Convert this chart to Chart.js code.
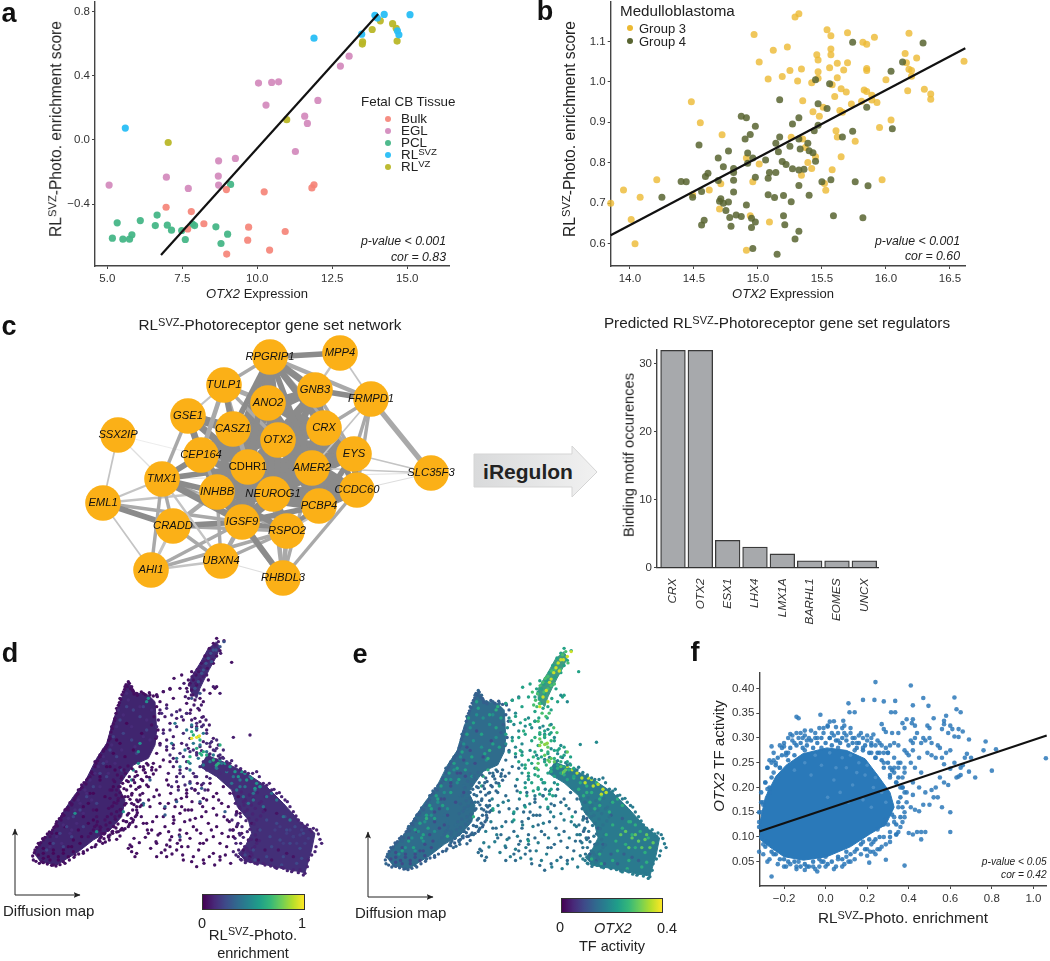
<!DOCTYPE html>
<html><head><meta charset="utf-8">
<style>
html,body{margin:0;padding:0;background:#fff;width:1050px;height:961px;overflow:hidden;font-family:"Liberation Sans",Arial,sans-serif;color:#222}
canvas{position:absolute}
.t{position:absolute;white-space:nowrap;line-height:1}
sup{font-size:.72em;line-height:0;vertical-align:.44em}
</style>
<script src="https://cdn.jsdelivr.net/npm/chart.js@4"></script>
</head><body>
<svg style="position:absolute;left:0;top:0" width="1050" height="961">
<defs><linearGradient id="arrowFill" x1="0" x2="1" y1="0" y2="0"><stop offset="0" stop-color="#d9dadb"/><stop offset="1" stop-color="#f1f1f1"/></linearGradient>
<marker id="ah" markerWidth="8" markerHeight="8" refX="6.5" refY="3" orient="auto" markerUnits="userSpaceOnUse"><path d="M0,0 L7,3 L0,6 L1.5,3 z" fill="#222"/></marker></defs>
<path d="M474,454 H572 V446 L597,472 L572,497 V487 H474 Z" fill="url(#arrowFill)" stroke="#d5d5d5" stroke-width="1"/>
<path d="M15,895 V829" fill="none" stroke="#222" stroke-width="1" marker-end="url(#ah)"/><path d="M15,895 H80" fill="none" stroke="#222" stroke-width="1" marker-end="url(#ah)"/>
<path d="M368,897 V832" fill="none" stroke="#222" stroke-width="1" marker-end="url(#ah)"/><path d="M368,897 H433" fill="none" stroke="#222" stroke-width="1" marker-end="url(#ah)"/>
</svg>
<script>
/* ---------- panel a ---------- */
const aBulkX=[6.96,7.8,8.22,7.68,8.97,10.23,11.89,11.82,9.71,10.93,9.68,10.41,8.98];
const aBulkY=[-0.42,-0.447,-0.523,-0.555,-0.31,-0.324,-0.28,-0.30,-0.544,-0.571,-0.625,-0.687,-0.712];
const aEglX=[5.06,6.97,7.7,8.7,8.71,8.71,9.27,11.27,11.67,11.58,12.02,10.29,10.04,10.48,10.71,12.77,13.06];
const aEglY=[-0.282,-0.233,-0.303,-0.226,-0.282,-0.131,-0.116,-0.073,0.102,0.147,0.245,0.216,0.353,0.357,0.361,0.459,0.521];
const aPclX=[5.17,5.33,5.52,5.74,5.82,6.1,6.6,6.66,7.0,7.14,7.48,7.6,7.84,7.91,8.62,9.01,8.79,9.11];
const aPclY=[-0.613,-0.517,-0.619,-0.619,-0.592,-0.503,-0.534,-0.469,-0.532,-0.563,-0.565,-0.621,-0.525,-0.534,-0.542,-0.588,-0.646,-0.278];
const aSvzX=[5.6,11.89,13.48,13.92,14.0,14.23,15.09,14.67,14.72];
const aSvzY=[0.073,0.633,0.658,0.775,0.758,0.781,0.779,0.679,0.654];
const aVzX=[7.03,10.98,13.5,13.51,13.83,14.1,14.51,14.63,14.66];
const aVzY=[-0.017,0.125,0.596,0.61,0.687,0.741,0.723,0.694,0.615];
const aFitX=[6.79,14.03], aFitY=[-0.717,0.783];
const aXTicks=[5,7.5,10,12.5,15], aXLabels=['5.0','7.5','10.0','12.5','15.0'];
const aYTicks=[-0.4,0,0.4,0.8], aYLabels=['\u22120.4','0.0','0.4','0.8'];
/* ---------- panel b ---------- */
const bG3X=[13.85,13.95,14.08,14.21,14.01,14.04,14.48,14.55,14.72,14.62,14.49,14.71,14.70,14.94,15.09,14.91,14.96,14.91,15.01,14.97,15.01,15.08,15.12,15.19,15.23,15.25,15.29,15.32,15.31,15.34,15.35,15.43,15.42,15.47,15.47,15.46,15.47,15.48,15.54,15.57,15.57,15.57,15.56,15.58,15.62,15.62,15.67,15.70,15.70,15.60,15.65,15.69,15.64,15.66,15.73,15.61,15.62,15.76,15.65,15.58,15.97,15.53,15.52,15.82,15.85,15.91,15.85,15.85,15.83,15.85,15.89,15.81,15.89,15.93,16.00,16.04,15.95,16.15,16.16,16.18,16.24,16.18,16.20,16.20,16.17,16.30,16.35,16.35,16.61,15.26,15.35,15.37,15.39,15.42,15.45,15.34,15.51];
const bG3Y=[0.70,0.733,0.715,0.758,0.66,0.60,0.951,0.899,0.869,0.733,0.721,0.748,0.686,0.669,0.654,0.584,0.753,0.812,0.797,1.117,1.049,1.007,1.078,1.013,1.086,1.028,1.160,1.168,1.002,1.032,0.953,0.926,0.998,1.009,1.025,1.067,1.054,0.915,1.129,1.114,1.081,1.067,1.035,0.993,1.010,1.046,1.029,1.047,1.121,0.964,0.983,0.975,0.929,0.925,0.945,0.879,0.864,0.853,0.815,0.783,0.758,0.732,0.749,1.098,1.093,1.110,1.033,1.028,0.980,0.976,0.967,0.952,0.955,0.949,1.005,0.906,0.887,1.070,1.047,1.120,1.059,1.031,1.028,1.014,0.978,0.982,0.970,0.957,1.051,0.863,0.859,0.838,0.801,0.786,0.815,0.769,0.937];
const bG4X=[14.25,14.40,14.44,14.49,14.56,14.59,14.61,14.54,14.56,14.58,14.69,14.73,14.77,14.81,14.81,14.81,14.81,14.69,14.70,14.71,14.73,14.77,14.75,14.78,14.83,14.87,14.79,14.91,14.95,14.98,14.95,14.96,14.87,14.91,14.98,14.94,14.90,14.92,14.96,14.92,14.98,15.06,15.09,15.14,15.08,15.08,15.13,15.20,15.26,15.20,15.21,15.32,15.29,15.15,15.17,15.17,15.14,15.16,15.19,15.22,15.27,15.32,15.36,15.25,15.27,15.32,15.32,15.33,15.39,15.40,15.43,15.44,15.47,15.47,15.54,15.45,15.32,15.40,15.50,15.57,15.59,15.66,15.74,15.76,15.86,15.82,16.05,15.85,15.74,16.29,16.13,16.04,15.45,15.56];
const bG4Y=[0.715,0.754,0.753,0.715,0.729,0.766,0.774,0.844,0.646,0.658,0.812,0.790,0.829,0.786,0.776,0.757,0.728,0.756,0.705,0.711,0.700,0.703,0.682,0.665,0.671,0.667,0.643,0.696,0.663,0.654,0.640,0.588,0.915,0.911,0.890,0.870,0.859,0.824,0.812,0.799,0.764,0.807,0.776,0.776,0.762,0.721,0.714,0.719,0.704,0.669,0.647,0.631,0.612,0.574,0.956,0.864,0.848,0.827,0.803,0.796,0.785,0.782,0.784,0.841,0.896,0.911,0.859,0.834,0.848,0.830,0.825,0.879,0.893,0.946,0.934,0.804,0.744,0.720,0.753,0.758,0.669,0.864,0.878,0.753,0.743,0.664,0.884,0.937,1.098,1.096,1.049,1.026,1.005,0.995];
const bFitX=[13.85,16.62], bFitY=[0.621,1.083];
const bXTicks=[14,14.5,15,15.5,16,16.5], bYTicks=[0.6,0.7,0.8,0.9,1.0,1.1];
/* ---------- panel c network ---------- */
const geneNames=['RPGRIP1','MPP4','TULP1','GNB3','FRMPD1','ANO2','GSE1','CASZ1','CRX','OTX2','SSX2IP','EYS','CEP164','CDHR1','AMER2','SLC35F3','TMX1','INHBB','NEUROG1','CCDC60','PCBP4','EML1','CRADD','IGSF9','RSPO2','UBXN4','AHI1','RHBDL3'];
const geneX=[270,340,224,315,371,268,188,233,324,278,118,354,201,248,312,431,162,217,273,357,319,103,173,242,287,221,151,283];
const geneY=[357,353,385,390,399,403,416,429,428,440,435,454,455,467,468,473,479,492,494,490,506,503,526,522,531,561,570,578];
const edgeFrom=[0,0,0,3,1,1,0,0,0,0,0,0,0,0,2,2,2,2,2,2,3,3,3,3,3,3,4,4,4,4,4,5,5,5,5,5,5,6,6,6,6,6,7,7,7,7,7,7,8,8,8,8,8,8,9,9,9,9,9,9,10,10,10,11,11,11,11,11,12,12,12,12,13,13,13,13,13,13,14,14,14,14,15,15,15,16,16,16,16,16,16,17,17,17,17,17,18,18,18,18,19,19,19,20,20,21,21,21,21,22,22,22,22,23,23,23,23,24,24,25,25,26,17];
const edgeTo=[1,3,4,4,3,4,5,2,8,9,7,13,14,11,5,7,6,13,12,9,5,8,9,14,13,11,8,11,19,15,14,7,9,8,13,14,18,7,12,13,16,17,9,12,13,17,14,18,9,11,14,13,18,19,13,14,18,17,11,19,21,16,13,14,19,15,18,20,13,16,17,18,14,17,18,16,20,23,18,19,20,17,19,16,14,17,23,22,26,21,25,18,23,22,24,25,20,23,24,19,20,27,24,24,23,22,23,17,26,23,24,25,26,24,25,26,27,27,25,26,27,24,27];
const edgeWidth=[5,6,4,5,2,1.5,7,3,6,6,5,5,5,3,4,5,2,4,4,3,6,7,6,6,5,3,3,3,3,4.5,1.5,7,7,6,7,6,5,8,6,6,3,3,7,8,9,7,6,7,6,5,7,5,6,5,8,8,8,7,5,5,1.5,1,0.5,7,6,1.5,5,5,8,5,7,6,9,9,9,5,6,6,9,7,7,6,1,0.8,1.5,5,6,3,3,2,2,8,7,4,5,3,8,8,7,7,7,3,2,5,5,5,3,2,1.5,5,3,3,2.5,5,4,3,5,4,3,2,1,3,4];
const coreFrom=[12,12,7,7,5,5,17,17,9,9,14,8,11,12,7,6,3,0,0,18,20,16,17,13,13,18,5,3,8,14];
const coreTo=[9,14,8,11,17,12,14,20,20,23,23,20,13,23,23,9,18,17,18,27,19,24,19,19,11,11,11,7,7,27];
const coreWidth=[9,9,8,7,8,8,9,8,8,8,8,7,8,8,7,7,6,5,6,4,8,4,7,8,8,8,6,6,7,3];
/* ---------- panel c bars ---------- */
const tfNames=['CRX','OTX2','ESX1','LHX4','LMX1A','BARHL1','EOMES','UNCX'];
const tfCounts=[32,32,4,3,2,1,1,1];
const barYTicks=[0,10,20,30];
/* ---------- panels d / e : hand-read cell positions (diffusion map units) ---------- */
const leftBodyX=[100,125,160,190,220,255,290,320,340,360,385,405,445,465,470,465,445,400,375,355,375,365,330,280,235,170,120];
const leftBodyY=[668,635,595,545,500,455,385,340,270,215,157,188,195,215,300,345,385,405,440,470,510,560,600,630,665,705,695];
const rightBodyX=[620,680,740,800,850,900,945,935,915,860,800,740,715,735,755,745,712,695,650,600];
const rightBodyY=[375,400,430,470,520,575,610,660,728,718,705,695,670,650,610,570,530,480,440,410];
const stalkBodyX=[648,660,648,628,612,600,590,572,570,582,600,625];
const stalkBodyY=[35,52,82,118,150,175,205,185,150,128,100,55];
const stalkDarkX=[650,672,660,640,628,615,604,650,695,622,640,610,596,588,575,580,570,560,565,545,522,540,600,612,625,645,585,598,578,560,572,650,630,610,590,575,520,490,510,470];
const stalkDarkY=[25,32,62,40,55,78,100,78,97,115,100,120,125,135,125,150,160,175,150,135,145,175,205,180,150,175,210,240,195,220,240,170,190,215,165,180,205,185,178,195];
const stalkMoreX=[655,645,662,638,630,622,612,600,592,584,576,568,562,556,610,620,600,588,574,566,552,604,594,582,570,606,618,628];
const stalkMoreY=[35,45,70,90,72,90,95,112,118,130,140,165,185,200,140,135,150,160,195,205,160,225,235,225,250,262,270,285];
const stalkBrightX=[632,618,640,605,625,595,648,585,610,600,575,660,672,635];
const stalkBrightY=[70,100,60,130,85,155,60,175,120,190,205,50,35,95];
const leftEdgeX=[100,105,118,130,150,158,170,165,185,195,215,205,225,245,235,260,275,285,300,320,310,330,335,345,350,360,375,385,395,410,430,450,470,490,510,125,160,190,225,250,285,300,330,355,385,400,410];
const leftEdgeY=[690,660,645,630,620,600,575,590,560,540,525,540,505,465,480,450,430,395,375,350,360,320,290,265,235,205,170,155,170,190,190,195,195,185,175,695,705,695,675,665,650,625,615,605,590,570,540];
const leftFringeX=[98,103,110,115,122,128,135,142,148,155,162,168,172,178,183,188,192,198,204,210,216,222,228,234,240,246,252,258,264,270,275,280,285,288,293,298,304,310,316,322,326,330,333,337,340,344,348,352,355,358,362,366,370,374,378,382,388,392,398,402,108,118,130,142,155,168,180,195,208,222,236,250,262,275,288,300,312,325,338,350,362,375,388,398,406,412,420,400,412,424,436,448,460,472,480,470,478,462,455,474,468,480];
const leftFringeY=[678,668,652,640,638,626,622,612,606,610,592,582,588,566,570,552,556,538,532,518,522,510,498,492,478,472,458,462,446,440,426,432,410,400,392,382,378,364,356,344,332,326,306,296,282,272,250,240,226,218,208,194,186,178,164,170,160,176,180,192,694,700,698,702,706,708,704,700,690,682,672,670,660,652,644,634,626,618,610,606,600,596,584,576,560,548,530,184,196,186,194,188,198,200,215,230,250,260,285,300,325,340];
const leftBlueX=[380,360,400,340,420,330,310,300,280,260,240,220,200,180,160,140,370,395,350,320,290,250,215,190,430,440,410,365];
const leftBlueY=[230,270,240,320,260,360,400,430,470,500,540,560,590,610,640,660,310,330,380,440,520,590,620,650,230,300,370,420];
const leftMidX=[370,385,350,335,395,420,440,450,310,295,270,255,240,225,205,190,170,150,365,345,325,300,275,250,230,210,185,405,430,455,380,355,320,285,260,235,215];
const leftMidY=[255,210,290,345,290,230,270,330,380,410,450,480,520,540,565,585,620,650,360,400,430,470,510,550,580,610,640,350,320,240,190,240,395,430,490,510,600];
const leftGreenX=[225,290,370,420,415,440,445,430,395,415,400];
const leftGreenY=[550,605,545,340,365,215,205,525,450,400,420];
const leftDarkX=[130,160,190,215,240,150,175,270,300,250,330,340,280,360,340,320,300,280,265,250,235,220,205,190,175,160,145,130,115,205,220,245,265,290,315,345,375,400,425,130,150,170,195,380,350];
const leftDarkY=[670,670,660,650,640,690,690,490,440,530,410,470,570,340,370,410,450,490,520,560,600,630,650,670,680,660,680,685,675,680,665,620,580,540,500,420,380,360,310,655,640,610,590,280,330];
const armX=[340,360,385,405,420,375,350,330,395,360,345,380,410,325,340,370,390,300,315,290,280,265,305,350,365,335,355,380,395,410,430,440,420,470,490,500,510,460,440,480,455,430];
const armY=[450,470,455,440,470,500,520,480,520,540,560,575,555,600,590,600,580,590,570,560,540,620,610,480,440,530,505,480,495,510,420,440,510,370,390,360,395,400,400,410,420,410];
const armMoreX=[360,372,384,396,408,420,432,444,456,468,352,364,376,388,400,412,424,436,448,460,344,356,368,380,392,404,416,428,440,336,348,360,372,384,396,408,420,330,342,354,366,378,390,402,414,326,338,350,362,374,386,398,410,322,334,346,358,370,382,394,318,330,342,354,366,378,300,312,324,336,348,360,290,302,314,326,338,350,280,292,304,316,328,272,284,296,308];
const armMoreY=[412,420,408,416,425,410,418,405,412,420,435,445,430,440,450,436,448,428,442,432,455,470,460,452,468,458,472,452,465,480,495,488,476,500,490,478,495,505,518,512,500,520,508,524,515,535,528,545,538,525,550,540,530,560,552,568,558,572,555,565,585,578,590,582,595,575,600,612,598,606,594,618,585,592,610,622,604,628,600,575,620,636,630,610,590,632,640];
const hubDarkX=[480,495,510,530,550,520,490,475,500,540,560,575,600,620,640,655,520,545,565,590,610,630,520,540,560,585,530,505,520,700,750,640,660,610,585,500,480,470,620,605];
const hubDarkY=[240,260,280,265,270,320,300,270,225,240,250,270,275,300,325,345,345,340,355,290,335,350,410,420,395,440,440,430,385,322,315,170,190,260,265,330,345,320,440,465];
const hubMoreX=[485,500,515,530,545,560,575,590,605,620,635,650,470,490,510,530,550,570,590,610,630,650,670,500,520,540,560,580,600,620,640,660,680,510,530,550,570,590,610,630,650,670,540,560,580,600,620,640,660,680,530,550,570,590,610,630,515,535,555,575,595,615];
const hubMoreY=[250,235,255,245,260,250,290,280,290,310,335,355,290,310,300,290,310,325,300,285,340,330,360,350,355,370,345,360,350,340,360,375,395,375,395,380,365,375,395,385,390,385,430,415,430,410,420,410,430,420,455,440,455,440,460,445,470,480,465,475,490,480];
const hubTealX=[560,575,590,610,600,580,555,530,540,570,620,640,515,525,570,595,610,630,650,665];
const hubTealY=[300,285,295,310,345,340,360,385,410,420,365,375,340,280,400,385,405,395,415,400];
const hubGreenX=[595,600,610,570,580,605,620,650,655,575,600,640,660,565,590];
const hubGreenY=[320,370,365,380,315,375,375,405,400,305,330,390,345,395,355];
const hubYellowX=[575,590,598], hubYellowY=[325,322,318];
const rightEdgeX=[625,660,690,720,745,770,790,815,830,855,870,895,915,935,950,965,945,925,915,900,875,850,825,795,765,735,715,700,705,690];
const rightEdgeY=[375,385,400,420,430,425,460,480,490,510,530,570,590,605,600,640,665,690,730,720,725,715,712,705,700,690,680,665,625,600];
const rightFringeX=[590,605,630,645,655,668,682,695,708,722,735,758,778,800,808,822,838,845,862,880,888,905,922,930,940,955,960,948,935,922,910,895,880,862,845,830,812,790,772,752,738,722,708];
const rightFringeY=[368,362,372,362,378,382,398,392,408,416,425,430,440,466,460,478,488,500,515,545,558,580,585,598,595,612,628,650,675,710,735,728,720,722,712,715,708,700,702,695,692,688,675];
const rightMidX=[700,712,724,736,748,760,772,784,796,706,718,730,742,754,766,778,790,710,722,734,746,758,770,782,714,726,738,750,762,774,718,730,742,754,766,778,722,734,746,758,770,716,728,740,752,764,708,720,732,744,756,700,712,724,736,748,696,708,720,732];
const rightMidY=[490,500,486,510,495,505,488,515,500,520,530,515,540,525,535,520,545,550,560,545,565,552,570,558,580,590,572,598,582,600,610,622,605,628,615,632,640,650,632,655,640,660,672,655,668,650,640,615,680,662,675,600,585,690,698,686,570,555,535,525];
const rightTealX=[680,700,720,735,750,765,710,730,760,780,800,745,790,815,830,720,695,760,850,870];
const rightTealY=[425,440,450,470,440,480,480,500,490,470,500,520,530,490,510,470,460,510,560,570];
const rightGreenX=[690,705,715,740,755,770,725,660,645,675,735,765,780];
const rightGreenY=[410,425,440,450,445,460,425,390,410,400,430,475,470];
const rightBlueX=[800,830,860,885,910,840,870,900,810,780,760,800,850,890,845,880,905,815,855,735,765];
const rightBlueY=[570,580,600,590,610,630,640,655,620,600,660,680,680,700,705,620,685,650,560,675,690];
const rightBrightX=[840,860,880,900,915,870,850,825,890,905,925];
const rightBrightY=[590,610,620,615,640,600,640,600,640,600,625];
const rightDarkX=[730,750,775,795,815,835,860,880,745,710,720,770,795,830,725,755];
const rightDarkY=[660,680,690,660,690,660,670,680,630,590,550,630,540,550,610,580];
const sparseX=[390,395,405,410,385,395,470,510,530,500,550,575,590,610,545,515,480,455,440,470,495,520,540,560,580,600,620,640,660,680,700,650,625,605,590,570,540,510,495,470,445,430,450,480,505,525,555,575,600,620,640,665,685,710,715,690,670,650,630,610,585,560,535,505,545,565,520,540,560,585,500,470,445,425,610,640,660,685];
const sparseY=[645,665,680,670,655,650,640,650,660,680,690,695,710,690,650,620,610,600,580,560,590,580,600,610,590,640,630,620,640,650,620,590,580,560,600,570,630,630,660,680,610,580,530,520,520,530,540,540,520,510,500,520,530,545,500,490,470,490,460,505,480,490,470,465,530,540,560,550,500,480,450,480,470,525,640,670,680,620];
const sparseMoreX=[402,418,436,452,468,484,500,516,532,548,564,580,596,612,628,644,660,676,692,408,424,442,458,474,490,506,522,538,554,570,586,602,618,634,650,666,682,698,428,446,462,478,494,512,528,544,560,576,592,608,624,640,656,672,688];
const sparseMoreY=[625,638,622,655,635,668,645,672,640,675,650,680,660,700,680,705,690,675,700,590,560,600,575,615,560,605,570,615,575,625,565,610,545,600,555,610,570,600,490,510,500,495,535,490,510,505,480,515,460,530,480,535,510,560,575];
const sparseTealX=[430,495,495,605,675,600,570,530,450,540];
const sparseTealY=[520,555,530,475,545,515,460,515,450,620];
/* tone of each group: enrichment 0..1 and OTX2 TF activity 0..0.4 */
const enrichTone={stalkDark:.05,stalkMore:.08,stalkBright:.25,leftEdge:.05,leftFringe:.04,leftBlue:.2,leftMid:.12,leftGreen:.5,leftDark:.02,arm:.05,armMore:.04,hubDark:.08,hubMore:.12,hubTeal:.4,hubGreen:.62,hubYellow:.97,rightEdge:.1,rightFringe:.1,rightMid:.1,rightTeal:.38,rightGreen:.52,rightBlue:.22,rightBright:.18,rightDark:.05,sparse:.04,sparseMore:.05,sparseTeal:.3};
const otxTone={stalkDark:.23,stalkMore:.28,stalkBright:.37,leftEdge:.13,leftFringe:.12,leftBlue:.2,leftMid:.23,leftGreen:.25,leftDark:.09,arm:.14,armMore:.13,hubDark:.19,hubMore:.23,hubTeal:.25,hubGreen:.3,hubYellow:.33,rightEdge:.16,rightFringe:.17,rightMid:.15,rightTeal:.25,rightGreen:.36,rightBlue:.25,rightBright:.3,rightDark:.12,sparse:.14,sparseMore:.17,sparseTeal:.22};
/* ---------- panel f ---------- */
const fBodyX=[-.318,-.29,-.24,-.19,-.11,.006,.1,.19,.25,.31,.33,.29,.21,.119,.006,-.106,-.2,-.27,-.315];
const fBodyY=[.125,.18,.222,.245,.268,.28,.275,.258,.225,.19,.16,.125,.105,.08,.06,.053,.06,.08,.095];
const fX=[.24,.41,.18,.235,.28,.335,.47,.62,.11,.42,.495,.63,.65,.315,.335,.115,.14,-.14,-.13,-.025,.04,.02,.085,.09,.12,.27,.28,.29,.05,-.01,.01,.03,.09,.17,.2,.23,.25,-.17,-.16,-.1,-.05,-.11,-.13,-.08,-.26,-.2,-.21,-.25,-.26,-.28,-.3,-.32,.37,.39,.42,.415,.38,.43,.44,.35,.32,.49,.5,.52,.57,.57,.58,.6,.61,.56,.59,.64,.66,.62,.64,.69,.41,.42,.43,.47,.48,.46,.5,.51,.54,.35,.33,.31,.29,.27,.38,.39,.4,.42,.45,.49,.51,.55,.58,.6,.53,.56,.77,.76,.82,.68,.7,.67,.66,.65,.62,.57,.6,.55,.57,.59,.63,.64,.65,.69,.72,.8,1.06,.53,.51,.48,.45,.42,.46,.43,.41,.38,.35,.33,.36,.39,.42,.5,.47,.45,.43,.41,.38,.35,.33,.29,.3,.31,.33,.37,.4,.42,.44,.46,.48,.46,.6,.6,.56,.52,.54,.34,.35,.28,.25,.23,.22,.18,.26,.24,.2,.215,.29,.38,.21,.12,.14,.06,.05,-.03,-.05,-.06,-.1,-.13,-.14,-.17,-.2,-.26,-.28,-.25,-.32,-.3,-.28,-.02,0,.09,.1,-.24,-.22,-.19,-.31,-.29,-.27,-.25,-.23,-.3,-.28,.15,.18,.22,.26,.3,.33,.36,.38,.24,.28,.31,.34,.37,-.15,-.09,-.04,.02,.06,.13];
const fY=[.413,.406,.377,.377,.374,.375,.381,.382,.37,.366,.365,.358,.352,.352,.352,.352,.352,.343,.34,.347,.334,.333,.335,.325,.32,.328,.318,.312,.322,.32,.323,.31,.31,.31,.305,.307,.295,.308,.305,.315,.31,.3,.3,.3,.283,.283,.28,.255,.25,.197,.165,.13,.33,.338,.338,.33,.32,.325,.31,.31,.31,.325,.32,.34,.335,.328,.345,.325,.318,.318,.31,.318,.313,.303,.302,.297,.295,.29,.3,.3,.295,.29,.3,.29,.285,.285,.29,.285,.28,.285,.275,.27,.265,.275,.26,.27,.265,.28,.27,.275,.26,.26,.293,.275,.277,.268,.26,.26,.245,.24,.25,.247,.238,.22,.21,.205,.22,.222,.225,.232,.22,.234,.259,.2,.195,.19,.2,.21,.23,.24,.25,.23,.25,.23,.2,.19,.185,.165,.165,.152,.155,.16,.15,.16,.14,.135,.125,.11,.13,.13,.108,.105,.11,.11,.11,.095,.11,.15,.16,.18,.18,.105,.11,.1,.115,.09,.085,.09,.075,.065,.062,.07,.054,.042,.048,.05,.07,.055,.04,.04,.035,.04,.033,.05,.04,.045,.04,.02,.05,.065,.07,.085,.09,.05,.06,.045,.06,.25,.24,.265,.15,.21,.19,.23,.22,.17,.24,.29,.28,.29,.27,.27,.26,.25,.24,.26,.25,.22,.21,.2,.29,.295,.3,.3,.295,.3];
const fRimX=[-.31,-.29,-.28,-.27,-.26,-.24,-.23,-.22,-.21,-.19,-.18,-.17,-.15,-.14,-.12,-.11,-.09,-.07,-.06,-.04,-.02,0,.02,.03,.05,.07,.08,.1,.11,.13,.15,.16,.18,.19,.21,.22,.24,.25,.27,.28,.3,.31,.32,.34,.35,.36,.37,.35,.37,.36,.34,.32,.31,.28,.26,.24,.21,.19,.17,.15,.12,.1,.08,.06,.03,.01,-.01,-.03,-.06,-.08,-.1,-.12,-.15,-.18,-.2,-.22,-.24,-.26,-.29,-.31,-.32,-.32,-.31];
const fRimY=[.19,.21,.24,.2,.22,.245,.26,.24,.265,.27,.255,.28,.265,.285,.29,.28,.285,.295,.28,.29,.3,.29,.3,.285,.295,.29,.3,.295,.285,.29,.28,.29,.275,.285,.27,.285,.26,.27,.255,.24,.25,.225,.235,.21,.22,.18,.2,.17,.16,.14,.125,.145,.1,.125,.1,.095,.095,.075,.085,.075,.065,.07,.055,.06,.05,.045,.05,.055,.05,.04,.045,.04,.05,.05,.055,.055,.065,.07,.08,.1,.12,.15,.17];
const fOuterX=[-.27,-.25,-.22,-.2,-.18,-.16,-.14,-.12,-.1,-.07,-.05,-.03,-.01,.01,.04,.06,.08,.1,.12,.14,.16,.18,.2,.22,.24,.26,.28,.3,.31,.33,.35,.37,.38,.39,.38,.36,.34,.31,.29,.27,.25,.23,.2,.17,.14,.11,.08,.04,0,-.04,-.09,-.14,-.19,-.23,-.27,-.3,-.18,-.1,-.02,.06,.14,.22];
const fOuterY=[.255,.27,.285,.29,.3,.295,.31,.31,.305,.315,.3,.32,.31,.325,.305,.31,.32,.305,.31,.3,.305,.3,.295,.3,.285,.29,.27,.27,.24,.24,.24,.22,.19,.17,.14,.12,.105,.09,.085,.08,.075,.07,.075,.065,.055,.05,.04,.035,.04,.03,.04,.035,.04,.045,.055,.065,.27,.275,.28,.28,.275,.27];
const fSpeckX=[-.05,.02,.08,.12,.16,.2,.24,-.1,-.02,.05,.1,.15,.19,.23,.27,.04,.13,-.07,.07,.18,.22,.29,-.15,.11,.01];
const fSpeckY=[.265,.27,.26,.265,.25,.245,.22,.25,.245,.24,.24,.23,.225,.2,.19,.215,.205,.225,.19,.175,.16,.17,.235,.17,.18];
const fFitX=[-.319,1.064], fFitY=[.111,.305];
const fXTicks=[-.2,0,.2,.4,.6,.8,1], fXLabels=['\u22120.2','0.0','0.2','0.4','0.6','0.8','1.0'];
const fYTicks=[.05,.1,.15,.2,.25,.3,.35,.4], fYLabels=['0.05','0.10','0.15','0.20','0.25','0.30','0.35','0.40'];

/* ---------- helpers ---------- */
const pts=(xs,ys)=>xs.map((x,i)=>({x,y:ys[i]}));
const FONT='"Liberation Sans",Arial,sans-serif';
Chart.defaults.font.family=FONT;
Chart.defaults.animation=false;
Chart.defaults.responsive=false;
Chart.defaults.plugins.legend.display=false;
Chart.defaults.plugins.tooltip.enabled=false;
function panel(left,top,w,h,config){
  const c=document.createElement('canvas');c.width=w;c.height=h;
  c.style.left=left+'px';c.style.top=top+'px';c.style.width=w+'px';c.style.height=h+'px';
  document.body.appendChild(c);
  return new Chart(c,config);
}
const noPad=s=>{s.paddingTop=0;s.paddingBottom=0;s.paddingLeft=0;s.paddingRight=0;};
function axis(min,max,ticks,labels,size,fit,pad){
  return {type:'linear',min,max,
    afterBuildTicks:s=>{s.ticks=ticks.map(v=>({value:v}));},
    afterFit:s=>{fit(s);noPad(s);},
    ticks:{autoSkip:false,maxRotation:0,minRotation:0,color:'#333',font:{size},padding:pad||2,callback:(v,i)=>labels[i]},
    grid:{drawOnChartArea:false,color:'#444',tickLength:3,tickWidth:1},
    border:{color:'#444',width:1.4}};
}
function dots(data,color,r,order){return {type:'scatter',data,pointRadius:r,pointBorderWidth:0,pointBackgroundColor:color,backgroundColor:color,showLine:false,clip:false,order:order||2};}
function fit(xs,ys){return {type:'scatter',data:pts(xs,ys),showLine:true,borderColor:'#111',borderWidth:2.2,pointRadius:0,clip:false,order:0};}
function T(x,y,html,o){
  o=o||{};const d=document.createElement('div');d.className='t';d.innerHTML=html;
  const a=o.a==='r'?'-100%':o.a==='l'?'0':'-50%';
  d.style.cssText=`left:${x}px;top:${y}px;font-size:${o.s||13}px;transform:translate(${a},-50%)${o.rot?' rotate(-90deg)':''};`+
    (o.b?'font-weight:bold;':'')+(o.i?'font-style:italic;':'')+(o.c?'color:'+o.c+';':'');
  document.body.appendChild(d);
}
const VIR=['#440154','#482878','#3e4a89','#31688e','#26828e','#1f9e89','#35b779','#6ece58','#b5de2b','#fde725'];
function hex(c){return [1,3,5].map(i=>parseInt(c.slice(i,i+2),16));}
function viridis(t){t=Math.max(0,Math.min(1,t))*(VIR.length-1);const i=Math.min(Math.floor(t),VIR.length-2),f=t-i,a=hex(VIR[i]),b=hex(VIR[i+1]);
  return `rgb(${a.map((v,k)=>Math.round(v+(b[k]-v)*f)).join(',')})`;}

/* a */
panel(0,0,470,310,{type:'scatter',data:{datasets:[
  fit(aFitX,aFitY),
  dots(pts(aBulkX,aBulkY),'rgba(245,130,118,.9)',3.6),
  dots(pts(aEglX,aEglY),'rgba(212,140,190,.95)',3.6),
  dots(pts(aPclX,aPclY),'rgba(70,182,135,.95)',3.6),
  dots(pts(aSvzX,aSvzY),'rgba(40,190,245,.95)',3.6),
  dots(pts(aVzX,aVzY),'rgba(185,183,40,.95)',3.6)
]},options:{layout:{autoPadding:false,padding:{left:0,right:21,top:1.7,bottom:0}},scales:{
  x:axis(4.59,16.39,aXTicks,aXLabels,11.5,s=>{s.height=44;},3),
  y:axis(-0.786,0.86,aYTicks,aYLabels,11.5,s=>{s.width=95;})}}});
/* b */
panel(510,0,470,310,{type:'scatter',data:{datasets:[
  fit(bFitX,bFitY),
  dots(pts(bG4X,bG4Y),'rgba(88,100,48,.85)',3.5,2),
  dots(pts(bG3X,bG3Y),'rgba(236,185,50,.8)',3.5,3)
]},options:{layout:{autoPadding:false,padding:{left:0,right:14.7,top:1.7,bottom:0}},scales:{
  x:axis(13.85,16.62,bXTicks,bXTicks.map(v=>v.toFixed(1)),11.5,s=>{s.height=44;},3),
  y:axis(0.545,1.198,bYTicks,bYTicks.map(v=>v.toFixed(1)),11.5,s=>{s.width=100.7;})}}});
/* c network */
const geneLabels={id:'geneLabels',afterDatasetsDraw(ch){
  const g=ch.ctx;g.save();g.textAlign='center';g.textBaseline='middle';g.fillStyle='#111';
  geneNames.forEach((n,i)=>{g.font=(n==='CDHR1'?'':'italic ')+'11.2px '+FONT;
    g.fillText(n,ch.scales.x.getPixelForValue(geneX[i]),ch.scales.y.getPixelForValue(geneY[i]));});
  g.restore();}};
const edgeSet=(a,b,w)=>({type:'scatter',data:[{x:geneX[a],y:geneY[a]},{x:geneX[b],y:geneY[b]}],showLine:true,pointRadius:0,order:5,
  borderWidth:w*1.15,borderColor:w>=5?'#8b8b8b':w>=3?'#a9a9a9':w>=1.5?'#c4c4c4':'#dedede'});
const edgeSets=edgeFrom.map((a,i)=>edgeSet(a,edgeTo[i],edgeWidth[i])).concat(coreFrom.map((a,i)=>edgeSet(a,coreTo[i],coreWidth[i])));
panel(0,330,480,270,{type:'scatter',plugins:[geneLabels],data:{datasets:[
  dots(pts(geneX,geneY),'#FBB017',17.8,0),...edgeSets
]},options:{layout:{autoPadding:false,padding:0},scales:{
  x:{type:'linear',display:false,min:0,max:480},
  y:{type:'linear',display:false,min:330,max:600,reverse:true}}}});
/* c bars */
panel(600,330,300,310,{type:'bar',data:{datasets:[{data:tfCounts.map((v,i)=>({x:i,y:v})),backgroundColor:'#A7A9AC',borderColor:'#3a3a3a',borderWidth:1.3,barThickness:24.7}]},
 options:{layout:{autoPadding:false,padding:{left:0,right:22,top:20,bottom:0}},scales:{
  x:{type:'linear',offset:false,min:-.585,max:7.5,afterBuildTicks:s=>{s.ticks=tfNames.map((n,i)=>({value:i}));},afterFit:s=>{s.height=72.5;noPad(s);},
     ticks:{autoSkip:false,minRotation:90,maxRotation:90,color:'#333',padding:3,font:{size:11.8,style:'italic'},callback:(v,i)=>tfNames[i]},
     grid:{display:false},border:{color:'#333',width:1.3}},
  y:axis(0,32.05,barYTicks,barYTicks.map(String),11.5,s=>{s.width=57;})}}});
/* d, e */
const zones=[
 ['rightDark',rightDarkX,rightDarkY],['rightMid',rightMidX,rightMidY],['rightBlue',rightBlueX,rightBlueY],['rightBright',rightBrightX,rightBrightY],['rightTeal',rightTealX,rightTealY],['rightGreen',rightGreenX,rightGreenY],['rightEdge',rightEdgeX,rightEdgeY],['rightFringe',rightFringeX,rightFringeY],
 ['leftEdge',leftEdgeX,leftEdgeY],['leftFringe',leftFringeX,leftFringeY],['leftDark',leftDarkX,leftDarkY],['leftBlue',leftBlueX,leftBlueY],['leftMid',leftMidX,leftMidY],['leftGreen',leftGreenX,leftGreenY],['arm',armX,armY],['armMore',armMoreX,armMoreY],
 ['stalkDark',stalkDarkX,stalkDarkY],['stalkMore',stalkMoreX,stalkMoreY],['stalkBright',stalkBrightX,stalkBrightY],
 ['sparse',sparseX,sparseY],['sparseMore',sparseMoreX,sparseMoreY],['sparseTeal',sparseTealX,sparseTealY],
 ['hubDark',hubDarkX,hubDarkY],['hubMore',hubMoreX,hubMoreY],['hubTeal',hubTealX,hubTealY],['hubGreen',hubGreenX,hubGreenY],['hubYellow',hubYellowX,hubYellowY]];
function body(xs,ys,color){return {type:'scatter',data:pts(xs,ys),showLine:true,fill:'shape',backgroundColor:color,borderColor:color,borderWidth:1,pointRadius:0,order:9};}
function cellSets(tone,norm){return zones.map(([n,x,y],i)=>dots(pts(x,y),viridis(tone[n]/norm),1.7,3+((zones.length-i)/100)));}
panel(0,630,350,331,{type:'scatter',data:{datasets:[
  body(leftBodyX,leftBodyY,'#40256f'),body(rightBodyX,rightBodyY,'#432f78'),body(stalkBodyX,stalkBodyY,'#422c76'),...cellSets(enrichTone,1)
]},options:{layout:{autoPadding:false,padding:0},scales:{x:{type:'linear',display:false,min:0,max:1050},y:{type:'linear',display:false,min:0,max:993,reverse:true}}}});
panel(350,630,330,331,{type:'scatter',data:{datasets:[
  body(leftBodyX,leftBodyY,'#2f6c8c'),body(rightBodyX,rightBodyY,'#2a7a8e'),body(stalkBodyX,stalkBodyY,'#3f9a83'),...cellSets(otxTone,.4)
]},options:{layout:{autoPadding:false,padding:0},scales:{x:{type:'linear',display:false,min:-11.2,max:1008},y:{type:'linear',display:false,min:-31.6,max:990,reverse:true}}}});
/* f */
panel(680,640,370,290,{type:'scatter',data:{datasets:[
  fit(fFitX,fFitY),
  dots(pts(fSpeckX,fSpeckY),'rgba(100,160,210,.55)',1.8,1),
  dots(pts(fX,fY),'rgba(43,120,184,.85)',2.3),
  dots(pts(fRimX,fRimY),'rgba(43,120,184,.9)',2.3,3),
  dots(pts(fOuterX,fOuterY),'rgba(43,120,184,.85)',2.3,3),
  {type:'scatter',data:pts(fBodyX,fBodyY),showLine:true,fill:'shape',backgroundColor:'#2a79b9',borderColor:'#2a79b9',borderWidth:1,pointRadius:0,order:9,clip:false}
]},options:{layout:{autoPadding:false,padding:{left:0,right:3.3,top:32.7,bottom:0}},scales:{
  x:axis(-.319,1.064,fXTicks,fXLabels,11.5,s=>{s.height=44;},3),
  y:axis(.0008,.432,fYTicks,fYLabels,11.5,s=>{s.width=79.3;})}}});

/* text */
const RL='RL<sup>SVZ</sup>';
[['a',9,13],['b',545,11],['c',9,326],['d',10,653],['e',360,654],['f',695,652]].forEach(([l,x,y])=>T(x,y,l,{s:27,b:1,c:'#111'}));
T(56,129,RL+'-Photo. enrichment score',{s:15.6,rot:1});
T(257,293,'<i>OTX2</i> Expression',{s:13});
T(361,102,'Fetal CB Tissue',{s:13.4,a:'l'});
[['Bulk',119,'rgba(245,130,118,.9)'],['EGL',131,'rgba(212,140,190,.95)'],['PCL',143,'rgba(70,182,135,.95)'],['RL<sup>SVZ</sup>',155,'rgba(40,190,245,.95)'],['RL<sup>VZ</sup>',167,'rgba(185,183,40,.95)']].forEach(([n,y,c])=>{
  T(401,y,n,{s:13.4,a:'l'});
  const m=document.createElement('div');m.style.cssText=`position:absolute;left:${388-3.4}px;top:${y-3.4}px;width:6.8px;height:6.8px;border-radius:50%;background:${c}`;document.body.appendChild(m);});
T(446,241,'p-value &lt; 0.001',{s:12.3,i:1,a:'r'});T(446,257,'cor = 0.83',{s:12.3,i:1,a:'r'});
T(570,129,RL+'-Photo. enrichment score',{s:15.6,rot:1});
T(783,293,'<i>OTX2</i> Expression',{s:13});
T(620,11,'Medulloblastoma',{s:15.2,a:'l'});
[['Group 3',28,'#ecb932'],['Group 4',41,'#586430']].forEach(([n,y,c])=>{
  T(639,y,n,{s:13,a:'l'});
  const m=document.createElement('div');m.style.cssText=`position:absolute;left:${630-3.3}px;top:${y-3.3}px;width:6.6px;height:6.6px;border-radius:50%;background:${c}`;document.body.appendChild(m);});
T(960,241,'p-value &lt; 0.001',{s:12.3,i:1,a:'r'});T(960,256,'cor = 0.60',{s:12.3,i:1,a:'r'});
T(270,325,RL+'-Photoreceptor gene set network',{s:15.3});
T(777,323,'Predicted '+RL+'-Photoreceptor gene set regulators',{s:15.3});
T(528,471,'iRegulon',{s:21,b:1,c:'#222'});
T(629,455,'Binding motif occurences',{s:14.7,rot:1});
T(3,910,'Diffusion map',{s:15,a:'l'});T(355,912,'Diffusion map',{s:15,a:'l'});
const bar=(x,y,w,h)=>{const m=document.createElement('div');m.style.cssText=`position:absolute;left:${x}px;top:${y}px;width:${w}px;height:${h}px;box-sizing:border-box;border:1px solid #333;background:linear-gradient(to right,${VIR.join(',')})`;document.body.appendChild(m);};
bar(202,894,103,16);bar(560.7,897.7,102,15.6);
T(202,923,'0',{s:14.5});T(302,923,'1',{s:14.5});T(253,934,RL+'-Photo.',{s:15});T(253,953,'enrichment',{s:14.5});
T(560,927,'0',{s:14.5});T(613,928,'OTX2',{s:14.5,i:1});T(667,928,'0.4',{s:14.5});T(612,946,'TF activity',{s:14.5});
T(718,756,'<i>OTX2</i> TF activity',{s:15,rot:1});
T(903,918,RL+'-Photo. enrichment',{s:15.3});
T(1046.7,862,'p-value &lt; 0.05',{s:10.2,i:1,a:'r'});T(1046.7,875,'cor = 0.42',{s:10.2,i:1,a:'r'});
</script>
</body></html>
